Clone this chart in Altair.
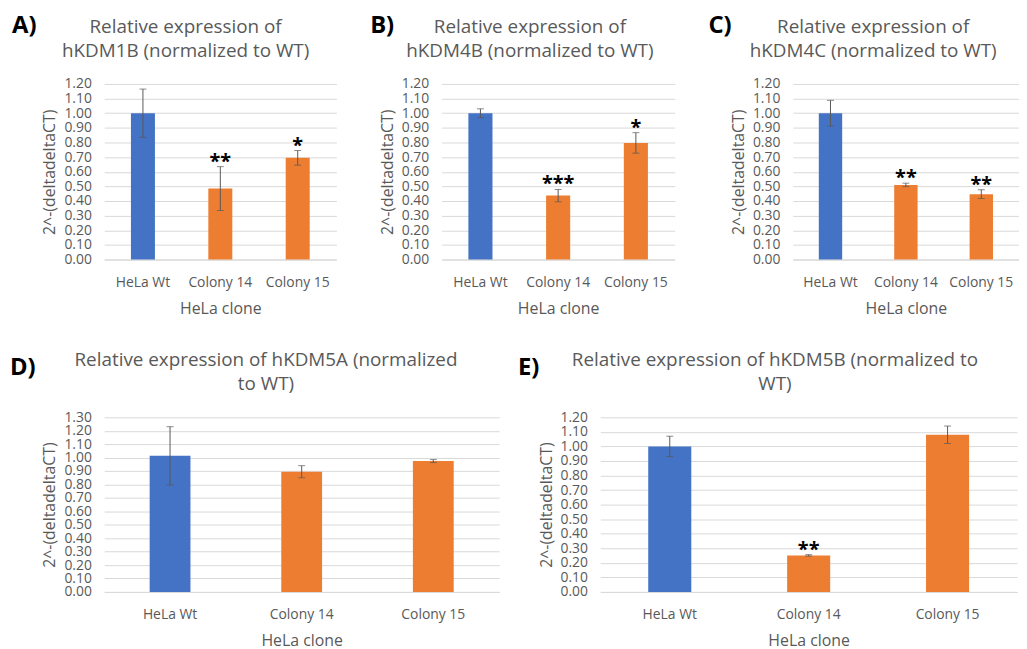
import altair as alt
import pandas as pd

clones = ["HeLa Wt", "Colony 14", "Colony 15"]
kinds = ["wt", "clone", "clone"]

kdm1b_mean = [1.00, 0.485, 0.695]
kdm1b_err = [0.165, 0.15, 0.05]
kdm1b_sig = ["", "**", "*"]

kdm4b_mean = [1.00, 0.437, 0.797]
kdm4b_err = [0.03, 0.042, 0.07]
kdm4b_sig = ["", "***", "*"]

kdm4c_mean = [1.00, 0.51, 0.447]
kdm4c_err = [0.088, 0.012, 0.03]
kdm4c_sig = ["", "**", "**"]

kdm5a_mean = [1.013, 0.895, 0.974]
kdm5a_err = [0.217, 0.045, 0.011]
kdm5a_sig = ["", "", ""]

kdm5b_mean = [1.00, 0.251, 1.08]
kdm5b_err = [0.07, 0.005, 0.06]
kdm5b_sig = ["", "**", ""]

titles = {
    "A": "Relative expression of\nhKDM1B (normalized to WT)",
    "B": "Relative expression of\nhKDM4B (normalized to WT)",
    "C": "Relative expression of\nhKDM4C (normalized to WT)",
    "D": "Relative expression of hKDM5A (normalized\nto WT)",
    "E": "Relative expression of hKDM5B (normalized to\nWT)",
}

ticks_12 = [round(i * 0.1, 2) for i in range(13)]
ticks_13 = [round(i * 0.1, 2) for i in range(14)]

BLUE = "#4472C4"
ORANGE = "#ED7D31"
GREY = "#595959"
FONT = "Open Sans"


def panel(letter, title_text, means, errs, sigs, ymax, yticks, width, height,
          letter_dx, letter_y, title_cx, title_y):
    df = pd.DataFrame({
        "clone": clones,
        "kind": kinds,
        "mean": means,
        "lo": [m - e for m, e in zip(means, errs)],
        "hi": [m + e for m, e in zip(means, errs)],
        "sig": sigs,
    })
    yscale = alt.Scale(domain=[0, ymax], nice=False)
    yaxis = alt.Axis(values=yticks, format=".2f", title="2^-(deltadeltaCT)",
                     grid=True, domain=False, ticks=False, labelPadding=13,
                     titlePadding=6, labelOverlap=False)
    xenc = alt.X(
        "clone:N", sort=clones,
        scale=alt.Scale(paddingInner=0.69, paddingOuter=0.345),
        axis=alt.Axis(title="HeLa clone", labelAngle=0, ticks=False, grid=False,
                      domainColor="#D9D9D9", labelPadding=16, titlePadding=11),
    )
    base = alt.Chart(df).encode(x=xenc)
    bars = base.mark_bar().encode(
        y=alt.Y("mean:Q", scale=yscale, axis=yaxis),
        color=alt.Color("kind:N", scale=alt.Scale(domain=["wt", "clone"], range=[BLUE, ORANGE]),
                        legend=None),
    )
    rule = base.mark_rule(color=GREY, strokeWidth=1).encode(
        y=alt.Y("lo:Q", scale=yscale, axis=yaxis), y2="hi:Q")
    cap_hi = base.mark_tick(color=GREY, size=7, thickness=1).encode(
        y=alt.Y("hi:Q", scale=yscale, axis=yaxis))
    cap_lo = base.mark_tick(color=GREY, size=7, thickness=1).encode(
        y=alt.Y("lo:Q", scale=yscale, axis=yaxis))
    stars = base.mark_text(font=FONT, fontSize=20, fontWeight="bold", color="black",
                           baseline="alphabetic", dy=1).encode(
        y=alt.Y("hi:Q", scale=yscale, axis=yaxis), text="sig:N")
    lab = alt.Chart(pd.DataFrame({"t": [letter]})).mark_text(
        font=FONT, fontSize=24, fontWeight="bold", color="black",
        align="left", baseline="alphabetic").encode(
        x=alt.value(letter_dx), y=alt.value(letter_y), text="t:N")
    ttl = alt.Chart(pd.DataFrame({"t": [title_text]})).mark_text(
        font=FONT, fontSize=19, color=GREY, align="center", baseline="alphabetic",
        lineBreak="\n", lineHeight=24).encode(
        x=alt.value(title_cx), y=alt.value(title_y), text="t:N")
    return alt.layer(bars, rule, cap_hi, cap_lo, stars, lab, ttl).properties(
        width=width, height=height)


A = panel("A)", titles["A"], kdm1b_mean, kdm1b_err, kdm1b_sig, 1.2, ticks_12,
          234, 177, -93, -51, 82, -51)
B = panel("B)", titles["B"], kdm4b_mean, kdm4b_err, kdm4b_sig, 1.2, ticks_12,
          235, 177, -72, -51, 89, -51)
C = panel("C)", titles["C"], kdm4c_mean, kdm4c_err, kdm4c_sig, 1.2, ticks_12,
          228, 177, -85, -51, 81, -51)
D = panel("D)", titles["D"], kdm5a_mean, kdm5a_err, kdm5a_sig, 1.3, ticks_13,
          398, 176, -95, -43, 163, -52)
E = panel("E)", titles["E"], kdm5b_mean, kdm5b_err, kdm5b_sig, 1.2, ticks_12,
          420, 176, -83, -43, 176, -52)

row1 = alt.hconcat(A, B, C, spacing=34).resolve_scale(x="independent", y="independent")
row2 = alt.hconcat(D, E, spacing=19).resolve_scale(x="independent", y="independent")

chart = alt.vconcat(row1, row2, spacing=35).resolve_scale(
    x="independent", y="independent"
).properties(
    padding={"left": 2, "top": 4, "right": 0, "bottom": 0}
).configure_view(stroke=None).configure_axis(
    labelFont=FONT, labelFontSize=14, labelColor=GREY,
    titleFont=FONT, titleFontSize=16, titleColor=GREY, titleFontWeight="normal",
    gridColor="#D9D9D9", gridWidth=1,
)

chart.save("out.html", embed_options={"renderer": "svg", "actions": False})
